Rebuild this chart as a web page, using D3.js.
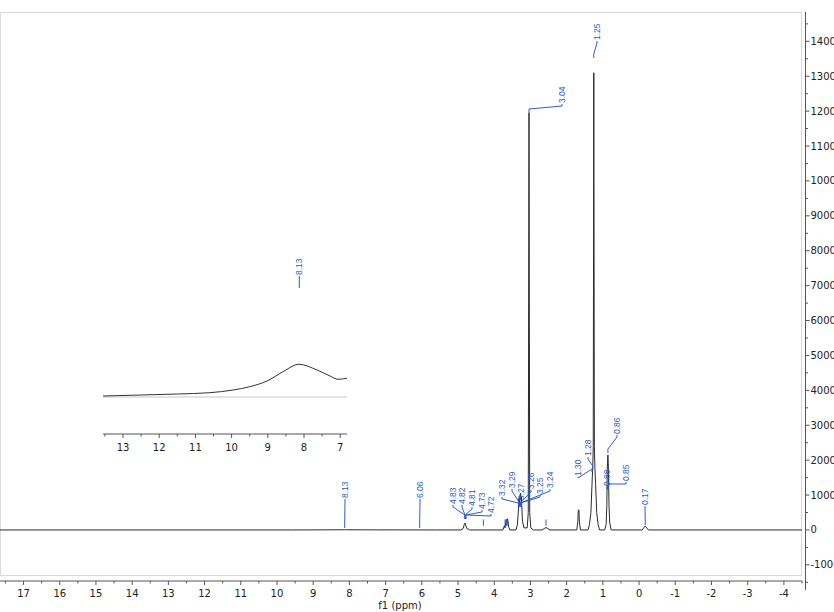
<!DOCTYPE html>
<html>
<head>
<meta charset="utf-8">
<script src="https://cdn.jsdelivr.net/npm/d3@7"></script>
<style>
  html, body { margin: 0; padding: 0; background: #fff; }
  svg { display: block; font-family: "DejaVu Sans", Verdana, sans-serif; }
</style>
</head>
<body>
<div id="chart"></div>
<script>
// spectrum: [shift (ppm), intensity]
var spectrum = [
  [17.65, 0], [9.6, 0], [9.0, 2], [8.5, 4], [8.13, 6], [7.7, 4], [7.2, 3], [6.8, 2], [6.3, 1], [5.6, 0],
  [4.92, 0], [4.86, 40], [4.83, 150], [4.82, 190], [4.81, 200], [4.79, 140], [4.76, 40], [4.73, 25], [4.72, 30], [4.68, 0],
  [3.76, 0], [3.72, 120], [3.70, 60], [3.67, 300], [3.65, 180], [3.63, 320], [3.60, 80], [3.57, 0],
  [3.40, 0], [3.36, 150], [3.33, 600], [3.32, 900], [3.30, 700], [3.29, 1000], [3.27, 1050], [3.26, 850],
  [3.25, 950], [3.24, 700], [3.22, 250], [3.18, 60],
  [3.09, 60], [3.06, 500], [3.04, 11950], [3.02, 500], [2.99, 60], [2.92, 0],
  [2.68, 0], [2.62, 40], [2.57, 70], [2.52, 40], [2.46, 0],
  [1.72, 0], [1.69, 250], [1.68, 560], [1.66, 580], [1.65, 250], [1.62, 0],
  [1.41, 0], [1.37, 150], [1.33, 500], [1.30, 1300], [1.28, 1800], [1.265, 2400], [1.25, 13100],
  [1.235, 2400], [1.22, 1800], [1.20, 1300], [1.17, 500], [1.13, 150], [1.09, 0],
  [0.95, 0], [0.91, 150], [0.89, 700], [0.88, 1700], [0.87, 2000], [0.86, 2150], [0.85, 1900],
  [0.83, 700], [0.81, 200], [0.77, 0],
  [-0.08, 0], [-0.13, 60], [-0.17, 110], [-0.21, 60], [-0.26, 0], [-4.5, 0]
];

// magnified inset of the broad 8.13 signal: [shift, relative intensity]
var insetCurve = [
  [13.55, 1], [12.5, 2], [11.5, 3], [10.6, 4.3], [9.96, 7], [9.5, 10.3], [9.02, 16],
  [8.58, 25.3], [8.14, 32.7], [7.64, 27], [7.28, 21], [7.06, 17.7], [6.81, 18.7]
];

var peakLabels = ['8.13', '6.06', '4.83', '4.82', '4.81', '4.73', '4.72',
  '3.32', '3.29', '3.27', '3.26', '3.25', '3.24', '3.04',
  '1.30', '1.28', '1.25', '0.88', '0.86', '0.85', '0.17'];
var peakShifts = [8.13, 6.06, 4.81, 4.81, 4.80, 4.79, 4.78,
  3.33, 3.30, 3.28, 3.28, 3.27, 3.27, 3.04,
  1.30, 1.28, 1.25, 0.86, 0.86, 0.85, -0.17];

var xMajorTicks = d3.range(-4, 18, 1);
var xMinorTicks = d3.range(-4.5, 17.6, 1);
var yMajorTicks = d3.range(-1000, 14001, 1000);
var yMinorTicks = d3.range(-1500, 14600, 1000);
var insetMajorTicks = [13, 12, 11, 10, 9, 8, 7];
var insetMinorTicks = [13.5, 12.5, 11.5, 10.5, 9.5, 8.5, 7.5];
var smallMarks = [4.30, 3.70, 3.66, 3.64, 2.57];

// label layout (pixels): text x, text bottom y, connector end y
var labelLayout = [
  [345, 498, 528], [420, 498, 528], [453, 504, 519], [462, 504, 519], [472, 506, 519], [482, 509, 519], [491, 513, 519],
  [502, 496, 507], [512, 488, 507], [521, 500, 507], [531, 489, 507], [540, 494, 507], [550, 488, 507], [562, 103, 113],
  [578, 476, 472], [588, 456, 470], [597, 40, 58], [607, 486, 490], [617, 434, 453], [626, 481, 488], [645, 505, 525]
];

var W = 834, H = 612;
var blue = '#2a5bd7';

var svg = d3.select('#chart').append('svg')
  .attr('width', W)
  .attr('height', H);

var x = d3.scaleLinear().domain([17.65, -4.5]).range([0, 802]);
var y = d3.scaleLinear().domain([-1720, 14840]).range([590, 12]);

// plot frame
svg.append('rect')
  .attr('x', 0.5).attr('y', 12.5)
  .attr('width', 801).attr('height', 563)
  .attr('fill', 'none')
  .attr('stroke', '#dadada');

// x axis
var xAxisY = 581;
svg.append('line')
  .attr('x1', 0).attr('x2', 802)
  .attr('y1', xAxisY).attr('y2', xAxisY)
  .attr('stroke', '#555');
svg.selectAll('.xmaj').data(xMajorTicks).enter().append('line')
  .attr('x1', function(d) { return x(d); }).attr('x2', function(d) { return x(d); })
  .attr('y1', xAxisY).attr('y2', xAxisY + 4)
  .attr('stroke', '#555');
svg.selectAll('.xmin').data(xMinorTicks).enter().append('line')
  .attr('x1', function(d) { return x(d); }).attr('x2', function(d) { return x(d); })
  .attr('y1', xAxisY).attr('y2', xAxisY + 2.5)
  .attr('stroke', '#555');
svg.selectAll('.xlab').data(xMajorTicks).enter().append('text')
  .attr('x', function(d) { return x(d); })
  .attr('y', 597)
  .attr('text-anchor', 'middle')
  .attr('font-size', 10)
  .attr('fill', '#222')
  .text(function(d) { return String(d); });
svg.append('text')
  .attr('x', 400).attr('y', 609)
  .attr('text-anchor', 'middle')
  .attr('font-size', 10)
  .attr('fill', '#222')
  .text('f1 (ppm)');

// y axis on the right
var yAxisX = 805.5;
svg.append('line')
  .attr('x1', yAxisX).attr('x2', yAxisX)
  .attr('y1', 12).attr('y2', 590)
  .attr('stroke', '#555');
svg.selectAll('.ymaj').data(yMajorTicks).enter().append('line')
  .attr('x1', yAxisX).attr('x2', yAxisX + 4)
  .attr('y1', function(d) { return y(d); }).attr('y2', function(d) { return y(d); })
  .attr('stroke', '#555');
svg.selectAll('.ymin').data(yMinorTicks).enter().append('line')
  .attr('x1', yAxisX).attr('x2', yAxisX + 2.5)
  .attr('y1', function(d) { return y(d); }).attr('y2', function(d) { return y(d); })
  .attr('stroke', '#555');
svg.selectAll('.ylab').data(yMajorTicks).enter().append('text')
  .attr('x', yAxisX + 5)
  .attr('y', function(d) { return y(d); })
  .attr('dy', '0.35em')
  .attr('font-size', 10)
  .attr('fill', '#222')
  .text(function(d) { return String(d); });

// main trace
var line = d3.line()
  .x(function(d) { return x(d[0]); })
  .y(function(d) { return y(d[1]); });
svg.append('path')
  .datum(spectrum)
  .attr('d', line)
  .attr('fill', 'none')
  .attr('stroke', '#2b2b2b')
  .attr('stroke-width', 1);

// little blue markers on the baseline
svg.selectAll('.mark').data(smallMarks).enter().append('line')
  .attr('x1', function(d) { return x(d); }).attr('x2', function(d) { return x(d); })
  .attr('y1', y(300)).attr('y2', y(120))
  .attr('stroke', blue)
  .attr('stroke-width', 1);

// peak labels with connectors
var labels = svg.selectAll('.plabel').data(peakLabels).enter().append('g');
labels.append('path')
  .attr('d', function(d, i) {
    var L = labelLayout[i], px = x(peakShifts[i]);
    var tx = L[0], ty = L[1], ey = L[2];
    if (ey > ty) {
      return 'M' + tx + ',' + (ty + 1) + 'V' + (ty + 3) + 'L' + px + ',' + (ey - 4) + 'V' + ey;
    }
    return 'M' + tx + ',' + (ty + 1) + 'V' + (ty + 2) + 'L' + px + ',' + (ey - 3) + 'V' + ey;
  })
  .attr('fill', 'none')
  .attr('stroke', blue)
  .attr('stroke-width', 1);
labels.append('text')
  .attr('transform', function(d, i) {
    return 'translate(' + labelLayout[i][0] + ',' + labelLayout[i][1] + ') rotate(-90)';
  })
  .attr('dy', '0.35em')
  .attr('font-family', '"Liberation Sans", Arial, sans-serif')
  .attr('font-size', 8.5)
  .attr('fill', blue)
  .text(function(d) { return d; });

// inset
var xi = d3.scaleLinear().domain([8, 7]).range([304, 340.2]);
var yi = d3.scaleLinear().domain([0, 40]).range([397, 357]);
var insetAxisY = 434;
svg.append('line')
  .attr('x1', xi(13.55)).attr('x2', xi(6.81))
  .attr('y1', yi(0)).attr('y2', yi(0))
  .attr('stroke', '#c8c8c8');
svg.append('line')
  .attr('x1', xi(13.55)).attr('x2', xi(6.81))
  .attr('y1', insetAxisY).attr('y2', insetAxisY)
  .attr('stroke', '#555');
svg.selectAll('.imaj').data(insetMajorTicks).enter().append('line')
  .attr('x1', function(d) { return xi(d); }).attr('x2', function(d) { return xi(d); })
  .attr('y1', insetAxisY).attr('y2', insetAxisY + 4)
  .attr('stroke', '#555');
svg.selectAll('.imin').data(insetMinorTicks).enter().append('line')
  .attr('x1', function(d) { return xi(d); }).attr('x2', function(d) { return xi(d); })
  .attr('y1', insetAxisY).attr('y2', insetAxisY + 2.5)
  .attr('stroke', '#555');
svg.selectAll('.ilab').data(insetMajorTicks).enter().append('text')
  .attr('x', function(d) { return xi(d); })
  .attr('y', 451)
  .attr('text-anchor', 'middle')
  .attr('font-size', 10)
  .attr('fill', '#222')
  .text(function(d) { return String(d); });

svg.append('path')
  .datum(insetCurve)
  .attr('d', d3.line()
    .x(function(d) { return xi(d[0]); })
    .y(function(d) { return yi(d[1]); })
    .curve(d3.curveMonotoneX))
  .attr('fill', 'none')
  .attr('stroke', '#333')
  .attr('stroke-width', 1);

// inset peak label
svg.append('line')
  .attr('x1', xi(8.13)).attr('x2', xi(8.13))
  .attr('y1', 276).attr('y2', 288)
  .attr('stroke', blue);
svg.append('text')
  .attr('transform', 'translate(' + xi(8.13) + ',275) rotate(-90)')
  .attr('dy', '0.35em')
  .attr('font-family', '"Liberation Sans", Arial, sans-serif')
  .attr('font-size', 8.5)
  .attr('fill', blue)
  .text('8.13');
</script>
</body>
</html>
